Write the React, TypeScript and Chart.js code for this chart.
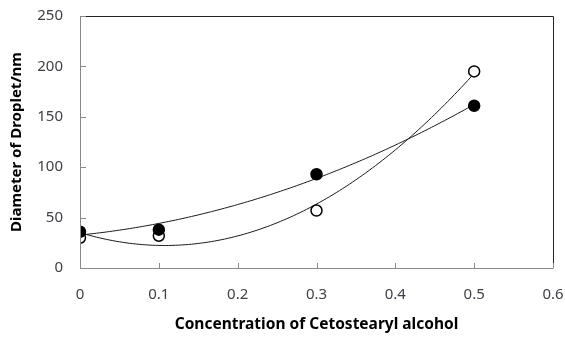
import React, { useEffect, useRef } from 'react';
import { Chart, registerables } from 'chart.js';

Chart.register(...registerables);

const concentrations = [0, 0.1, 0.3, 0.5];
const filledDiameters = [36, 38, 93, 161];
const openDiameters = [30, 32, 57, 195];
const xTickValues = [0, 0.1, 0.2, 0.3, 0.4, 0.5, 0.6];
const yTickValues = [0, 50, 100, 150, 200, 250];
const xTitle = 'Concentration of Cetostearyl alcohol';
const yTitle = 'Diameter of Droplet/nm';

function quadFit(xs: number[], ys: number[]): number[] {
  // least-squares y = a + b x + c x^2 (Excel polynomial trendline, order 2)
  const s = [0, 0, 0, 0, 0];
  const t = [0, 0, 0];
  for (let i = 0; i < xs.length; i++) {
    let p = 1;
    for (let k = 0; k < 5; k++) { s[k] += p; if (k < 3) t[k] += p * ys[i]; p *= xs[i]; }
  }
  const m = [
    [s[0], s[1], s[2], t[0]],
    [s[1], s[2], s[3], t[1]],
    [s[2], s[3], s[4], t[2]],
  ];
  for (let i = 0; i < 3; i++) {
    for (let j = i + 1; j < 3; j++) {
      const f = m[j][i] / m[i][i];
      for (let k = i; k < 4; k++) m[j][k] -= f * m[i][k];
    }
  }
  const r = [0, 0, 0];
  for (let i = 2; i >= 0; i--) {
    let v = m[i][3];
    for (let k = i + 1; k < 3; k++) v -= m[i][k] * r[k];
    r[i] = v / m[i][i];
  }
  return r;
}

const trendPlugin = {
  id: 'trend',
  beforeDatasetsDraw(chart: any) {
    const { ctx, scales } = chart;
    const xs = scales.x, ys = scales.y;
    const series = [filledDiameters, openDiameters];
    const x0 = Math.min(...concentrations), x1 = Math.max(...concentrations);
    ctx.save();
    ctx.strokeStyle = '#1a1a1a';
    ctx.lineWidth = 1;
    series.forEach((vals) => {
      const [a, b, c] = quadFit(concentrations, vals);
      ctx.beginPath();
      const n = 120;
      for (let i = 0; i <= n; i++) {
        const x = x0 + ((x1 - x0) * i) / n;
        const y = a + b * x + c * x * x;
        const px = xs.getPixelForValue(x), py = ys.getPixelForValue(y);
        if (i === 0) ctx.moveTo(px, py); else ctx.lineTo(px, py);
      }
      ctx.stroke();
    });
    ctx.restore();
  },
  afterDraw(chart: any) {
    const { ctx, chartArea, scales } = chart;
    const { left, right, top, bottom } = chartArea;
    ctx.save();
    ctx.lineWidth = 1;
    ctx.strokeStyle = '#222';
    ctx.beginPath();
    ctx.moveTo(left, top + 0.5);
    ctx.lineTo(right + 0.5, top + 0.5);
    ctx.lineTo(right + 0.5, bottom);
    ctx.stroke();
    ctx.strokeStyle = '#8a8a8a';
    ctx.beginPath();
    ctx.moveTo(left + 0.5, top);
    ctx.lineTo(left + 0.5, bottom + 0.5);
    ctx.lineTo(right + 0.5, bottom + 0.5);
    ctx.stroke();
    ctx.beginPath();
    xTickValues.forEach((v) => {
      const px = Math.round(scales.x.getPixelForValue(v)) + 0.5;
      ctx.moveTo(px, bottom);
      ctx.lineTo(px, bottom - 5);
    });
    yTickValues.forEach((v) => {
      const py = Math.round(scales.y.getPixelForValue(v)) + 0.5;
      ctx.moveTo(left, py);
      ctx.lineTo(left + 6, py);
    });
    ctx.stroke();
    ctx.restore();
  },
};

export default function App() {
  const ref = useRef<HTMLCanvasElement>(null);
  useEffect(() => {
    document.body.style.margin = '0';
    const chart = new Chart(ref.current as HTMLCanvasElement, {
      type: 'scatter',
      data: {
        datasets: [
          {
            label: 'filled',
            data: concentrations.map((x, i) => ({ x, y: filledDiameters[i] })),
            backgroundColor: '#000',
            borderColor: '#000',
            borderWidth: 1.5,
            pointRadius: 5.5,
          },
          {
            label: 'open',
            data: concentrations.map((x, i) => ({ x, y: openDiameters[i] })),
            backgroundColor: '#fff',
            borderColor: '#000',
            borderWidth: 1.5,
            pointRadius: 5.5,
          },
        ],
      },
      options: {
        responsive: false,
        animation: false,
        events: [],
        layout: { padding: { top: 16, right: 12, left: 0, bottom: 0 }, autoPadding: false } as any,
        plugins: { legend: { display: false }, tooltip: { enabled: false } },
        scales: {
          x: {
            type: 'linear',
            min: 0,
            max: 0.6,
            afterFit: (s: any) => { s.height = 70; s.paddingLeft = 0; s.paddingRight = 0; },
            afterBuildTicks: (s: any) => { s.ticks = xTickValues.map((v) => ({ value: v })); },
            grid: { display: false, drawTicks: false },
            border: { display: false },
            ticks: {
              padding: 18,
              color: '#404048',
              font: { family: 'Noto Sans', size: 15 },
              callback: (v: any) => String(Number(Number(v).toFixed(1))),
              maxRotation: 0,
            },
            title: {
              display: true,
              text: xTitle,
              color: '#000',
              font: { family: 'Noto Sans', size: 15.5, weight: 'bold' },
              padding: { top: 4, bottom: 4 },
            },
          },
          y: {
            type: 'linear',
            min: 0,
            max: 250,
            afterFit: (s: any) => { s.width = 80; s.paddingTop = 0; s.paddingBottom = 0; },
            afterBuildTicks: (s: any) => { s.ticks = yTickValues.map((v) => ({ value: v })); },
            grid: { display: false, drawTicks: false },
            border: { display: false },
            ticks: {
              padding: 17,
              color: '#404048',
              font: { family: 'Noto Sans', size: 15 },
            },
            title: {
              display: true,
              text: yTitle,
              color: '#000',
              font: { family: 'Noto Sans', size: 15, weight: 'bold' },
              padding: { top: 8, bottom: 4 },
            },
          },
        },
      } as any,
      plugins: [trendPlugin],
    });
    return () => chart.destroy();
  }, []);
  return (
    <div style={{ position: 'absolute', left: 0, top: 0, width: 565, height: 338, background: '#fff' }}>
      <canvas ref={ref} width={565} height={338} />
    </div>
  );
}
